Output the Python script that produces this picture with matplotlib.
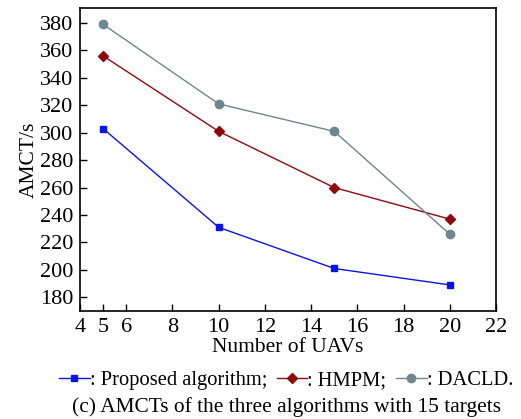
import matplotlib.pyplot as plt

plt.rcParams['font.family'] = ['Liberation Serif', 'DejaVu Serif']

num_uavs = [5, 10, 15, 20]
proposed = [303, 231, 201, 189]
hmpm = [356, 301, 260, 237]
dacld = [379, 321, 301, 226]

fig = plt.figure(figsize=(5.21, 4.19), dpi=100)
ax = fig.add_axes([0.1536, 0.2578, 0.7985, 0.7232])

ax.plot(num_uavs, proposed, color='#0a14e6', marker='s', markersize=5, lw=1,
        label=': Proposed algorithm;')
ax.plot(num_uavs, hmpm, color='#8c0a10', marker='D', markersize=5, lw=1,
        label=': HMPM;')
ax.plot(num_uavs, dacld, color='#6e868e', marker='o', markersize=6, lw=1,
        label=': DACLD.')

ax.set_xlim(4, 22)
ax.set_ylim(170, 391)
ax.set_xticks([4, 5, 6, 8, 10, 12, 14, 16, 18, 20, 22])
ax.set_yticks(range(180, 381, 20))
ax.tick_params(direction='in', labelsize=16, length=5, width=1, pad=5,
               top=False, right=False)
for s in ax.spines.values():
    s.set_linewidth(1.2)
ax.set_xlabel('Number of UAVs', fontsize=15.5, labelpad=1)
ax.set_ylabel('AMCT/s', fontsize=15.5, labelpad=1)

fig.legend(loc='center', bbox_to_anchor=(0.549, 0.093), ncol=3, frameon=False,
           fontsize=14.8, handlelength=1.5, handletextpad=0.0, columnspacing=0.45,
           borderpad=0)
fig.text(0.55, 0.028, '(c) AMCTs of the three algorithms with 15 targets',
         ha='center', va='center', fontsize=15.4)

fig.savefig('out.png', dpi=100)
